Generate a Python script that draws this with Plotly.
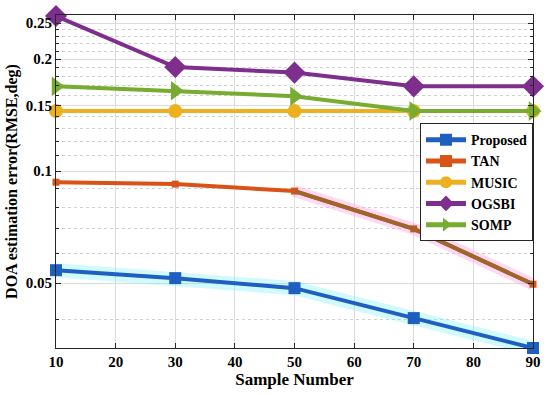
import plotly.graph_objects as go

samples = [10, 30, 50, 70, 90]
proposed = [0.0542, 0.0516, 0.0485, 0.0403, 0.0335]
tan = [0.0934, 0.0923, 0.0884, 0.0700, 0.0497]
music = [0.145, 0.145, 0.145, 0.145, 0.145]
ogsbi = [0.261, 0.1905, 0.184, 0.169, 0.169]
somp = [0.169, 0.1644, 0.159, 0.145, 0.145]

y_ticks = [0.05, 0.1, 0.15, 0.2, 0.25]
y_tick_text = ["0.05", "0.1", "0.15", "0.2", "0.25"]
y_minor = [0.04, 0.06, 0.07, 0.08, 0.09, 0.11, 0.12, 0.13, 0.14, 0.16, 0.17,
           0.18, 0.19, 0.21, 0.22, 0.23, 0.24]
x_ticks = [10, 20, 30, 40, 50, 60, 70, 80, 90]

FONT = "Liberation Serif, Times New Roman, serif"

fig = go.Figure()

# halos (glow) under lines
fig.add_trace(go.Scatter(x=samples, y=proposed, mode="lines",
                         line=dict(color="rgba(120,240,250,0.35)", width=14),
                         showlegend=False, hoverinfo="skip", cliponaxis=False))
fig.add_trace(go.Scatter(x=samples[2:], y=tan[2:], mode="lines",
                         line=dict(color="rgba(250,170,230,0.45)", width=12),
                         showlegend=False, hoverinfo="skip", cliponaxis=False))

fig.add_trace(go.Scatter(x=samples, y=music, name="MUSIC", mode="lines+markers",
                         line=dict(color="#EDB120", width=4),
                         marker=dict(symbol="circle", size=14, color="#EDB120"),
                         cliponaxis=False, legendrank=3))
fig.add_trace(go.Scatter(x=samples, y=somp, name="SOMP", mode="lines+markers",
                         line=dict(color="#77AC30", width=4),
                         marker=dict(symbol="triangle-right", size=17, color="#77AC30"),
                         cliponaxis=False, legendrank=5))
fig.add_trace(go.Scatter(x=samples, y=ogsbi, name="OGSBI", mode="lines+markers",
                         line=dict(color="#7E2F8E", width=4),
                         marker=dict(symbol="diamond", size=17, color="#7E2F8E"),
                         cliponaxis=False, legendrank=4))
fig.add_trace(go.Scatter(x=samples, y=tan, name="TAN", mode="lines+markers",
                         line=dict(color="#D95319", width=4),
                         marker=dict(symbol="square", size=7, color="#D95319"),
                         cliponaxis=False, legendrank=2))
fig.add_trace(go.Scatter(x=samples[2:], y=tan[2:], mode="lines",
                         line=dict(color="#A0652A", width=4),
                         showlegend=False, hoverinfo="skip", cliponaxis=False))
fig.add_trace(go.Scatter(x=samples, y=proposed, name="Proposed", mode="lines+markers",
                         line=dict(color="#1F5FC0", width=4),
                         marker=dict(symbol="square", size=12, color="#1F5FC0"),
                         cliponaxis=False, legendrank=1))

axis_common = dict(
    showline=True, linecolor="#262626", linewidth=1, mirror="allticks",
    ticks="inside", ticklen=5, tickcolor="#262626",
    showgrid=True, gridcolor="#dcdcdc", gridwidth=1,
    zeroline=False, automargin=False,
    tickfont=dict(family=FONT, size=15, color="#000000", weight="bold"),
)

fig.update_xaxes(range=[10, 90], tickvals=x_ticks,
                 title=dict(text="Sample Number", standoff=4,
                            font=dict(family=FONT, size=17, color="#000", weight="bold")),
                 **axis_common)
fig.update_yaxes(type="log", range=[-1.475, -0.5805], tickvals=y_ticks, ticktext=y_tick_text,
                 title=dict(text="DOA estimation error(RMSE,deg)", standoff=4,
                            font=dict(family=FONT, size=16, color="#000", weight="bold")),
                 minor=dict(tickvals=y_minor, ticks="inside", ticklen=3, tickcolor="#262626",
                            showgrid=True, gridcolor="#d0d0d0", griddash="dot"),
                 **axis_common)

fig.update_layout(
    width=550, height=395,
    margin=dict(l=56, r=17, t=15, b=47),
    plot_bgcolor="white", paper_bgcolor="white",
    font=dict(family=FONT, color="#000", weight="bold"),
    legend=dict(x=1, y=0.675, xanchor="right", yanchor="top",
                bgcolor="white", bordercolor="#262626", borderwidth=1,
                font=dict(family=FONT, size=14, color="#000", weight="bold"),
                tracegroupgap=0, itemwidth=40, itemsizing="constant"),
)

fig.write_html("out.html", post_script="document.body.style.margin='0';",
               config={"displayModeBar": False})
